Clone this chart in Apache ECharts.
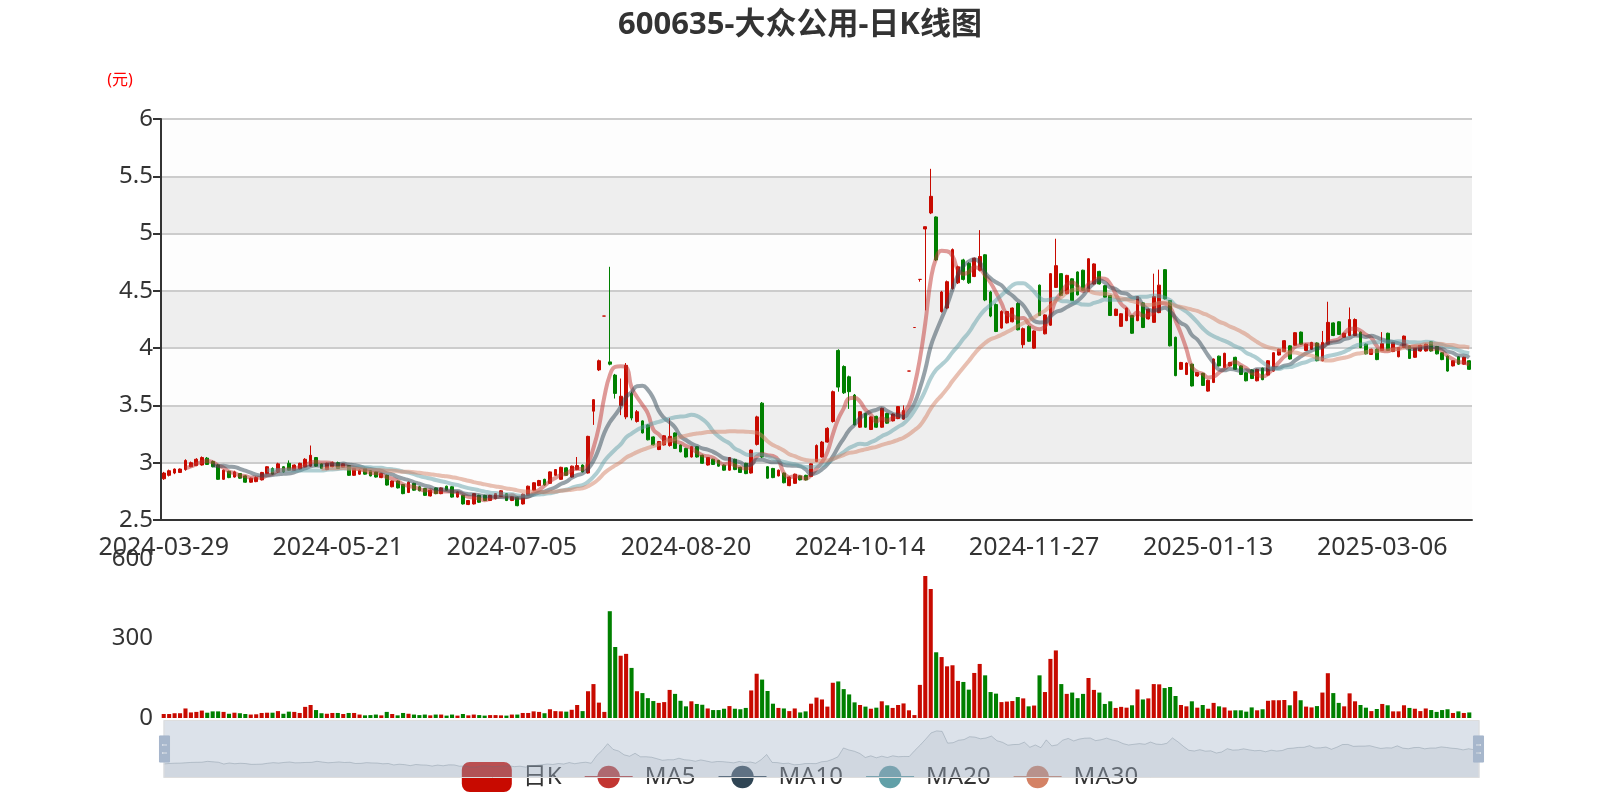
<!DOCTYPE html>
<html><head><meta charset="utf-8">
<script src="https://cdn.jsdelivr.net/npm/echarts@6/dist/echarts.min.js"></script>
<style>html,body{margin:0;padding:0;background:#fff}#chart{width:1600px;height:800px}</style>
</head><body><div id="chart"></div>
<script>
const dates = [
'2024-03-29',
'2024-04-01','2024-04-02','2024-04-03','2024-04-08','2024-04-09','2024-04-10','2024-04-11','2024-04-12','2024-04-15','2024-04-16','2024-04-17','2024-04-18','2024-04-19','2024-04-22','2024-04-23','2024-04-24','2024-04-25','2024-04-26','2024-04-29','2024-04-30',
'2024-05-06','2024-05-07','2024-05-08','2024-05-09','2024-05-10','2024-05-13','2024-05-14','2024-05-15','2024-05-16','2024-05-17','2024-05-20','2024-05-21','2024-05-22','2024-05-23','2024-05-24','2024-05-27','2024-05-28','2024-05-29','2024-05-30','2024-05-31',
'2024-06-03','2024-06-04','2024-06-05','2024-06-06','2024-06-07','2024-06-11','2024-06-12','2024-06-13','2024-06-14','2024-06-17','2024-06-18','2024-06-19','2024-06-20','2024-06-21','2024-06-24','2024-06-25','2024-06-26','2024-06-27','2024-06-28',
'2024-07-01','2024-07-02','2024-07-03','2024-07-04','2024-07-05','2024-07-08','2024-07-09','2024-07-10','2024-07-11','2024-07-12','2024-07-15','2024-07-16','2024-07-17','2024-07-18','2024-07-19','2024-07-22','2024-07-23','2024-07-24','2024-07-25','2024-07-26','2024-07-29','2024-07-30','2024-07-31',
'2024-08-01','2024-08-02','2024-08-05','2024-08-06','2024-08-07','2024-08-08','2024-08-09','2024-08-12','2024-08-13','2024-08-14','2024-08-15','2024-08-16','2024-08-19','2024-08-20','2024-08-21','2024-08-22','2024-08-23','2024-08-26','2024-08-27','2024-08-28','2024-08-29','2024-08-30',
'2024-09-02','2024-09-03','2024-09-04','2024-09-05','2024-09-06','2024-09-09','2024-09-10','2024-09-11','2024-09-12','2024-09-13','2024-09-18','2024-09-19','2024-09-20','2024-09-23','2024-09-24','2024-09-25','2024-09-26','2024-09-27','2024-09-30',
'2024-10-08','2024-10-09','2024-10-10','2024-10-11','2024-10-14','2024-10-15','2024-10-16','2024-10-17','2024-10-18','2024-10-21','2024-10-22','2024-10-23','2024-10-24','2024-10-25','2024-10-28','2024-10-29','2024-10-30','2024-10-31',
'2024-11-01','2024-11-04','2024-11-05','2024-11-06','2024-11-07','2024-11-08','2024-11-11','2024-11-12','2024-11-13','2024-11-14','2024-11-15','2024-11-18','2024-11-19','2024-11-20','2024-11-21','2024-11-22','2024-11-25','2024-11-26','2024-11-27','2024-11-28','2024-11-29',
'2024-12-02','2024-12-03','2024-12-04','2024-12-05','2024-12-06','2024-12-09','2024-12-10','2024-12-11','2024-12-12','2024-12-13','2024-12-16','2024-12-17','2024-12-18','2024-12-19','2024-12-20','2024-12-23','2024-12-24','2024-12-25','2024-12-26','2024-12-27','2024-12-30','2024-12-31',
'2025-01-02','2025-01-03','2025-01-06','2025-01-07','2025-01-08','2025-01-09','2025-01-10','2025-01-13','2025-01-14','2025-01-15','2025-01-16','2025-01-17','2025-01-20','2025-01-21','2025-01-22','2025-01-23','2025-01-24','2025-01-27',
'2025-02-05','2025-02-06','2025-02-07','2025-02-10','2025-02-11','2025-02-12','2025-02-13','2025-02-14','2025-02-17','2025-02-18','2025-02-19','2025-02-20','2025-02-21','2025-02-24','2025-02-25','2025-02-26','2025-02-27','2025-02-28',
'2025-03-03','2025-03-04','2025-03-05','2025-03-06','2025-03-07','2025-03-10','2025-03-11','2025-03-12','2025-03-13','2025-03-14','2025-03-17','2025-03-18','2025-03-19','2025-03-20','2025-03-21','2025-03-24','2025-03-25','2025-03-26','2025-03-27','2025-03-28'
];
const opens = [
2.86,2.89,2.91,2.915,2.94,2.965,2.975,2.98,3.04,3.01,
2.98,2.855,2.925,2.875,2.905,2.885,2.83,2.835,2.85,2.905,
2.95,2.92,2.965,2.995,2.935,2.945,2.965,2.97,3.045,2.99,
2.94,2.965,3.00,2.96,2.975,2.89,2.90,2.95,2.93,2.92,
2.87,2.89,2.79,2.84,2.81,2.74,2.82,2.79,2.775,2.71,
2.78,2.73,2.795,2.79,2.70,2.715,2.635,2.64,2.715,2.715,
2.67,2.685,2.705,2.73,2.67,2.70,2.64,2.715,2.76,2.80,
2.855,2.82,2.89,2.855,2.955,2.875,2.94,2.98,2.91,3.45,
3.81,4.28,3.88,3.765,3.50,3.40,3.605,3.36,3.365,3.33,
3.225,3.115,3.155,3.15,3.26,3.155,3.125,3.05,3.14,3.065,
2.98,3.03,3.02,2.98,2.935,3.03,2.96,2.995,2.91,3.16,
3.52,2.965,2.95,2.885,2.91,2.80,2.82,2.885,2.89,2.88,
3.01,3.05,3.18,3.36,3.98,3.84,3.75,3.59,3.31,3.43,
3.29,3.405,3.31,3.43,3.365,3.385,3.38,3.80,4.18,4.60,
5.04,5.18,5.145,4.32,4.35,4.52,4.57,4.77,4.74,4.625,
4.68,4.815,4.49,4.38,4.175,4.22,4.23,4.39,4.03,4.19,
4.00,4.55,4.125,4.20,4.53,4.65,4.475,4.605,4.665,4.68,
4.495,4.56,4.67,4.545,4.46,4.285,4.19,4.24,4.285,4.24,
4.395,4.255,4.225,4.31,4.685,4.415,4.095,3.815,3.77,3.86,
3.757,3.78,3.625,3.70,3.93,3.83,3.845,3.92,3.845,3.785,
3.81,3.715,3.825,3.765,3.80,3.94,3.97,4.02,4.025,4.14,
3.98,3.99,4.045,3.89,4.035,4.22,4.23,4.095,4.11,4.11,
4.14,4.035,3.945,3.99,3.98,4.13,3.97,3.925,4.005,4.02,
3.92,3.975,3.975,4.055,4.015,3.96,3.93,3.845,3.925,3.86,
3.89
];
const closes = [
2.91,2.93,2.945,2.945,3.02,3.00,3.03,3.045,2.985,2.965,
2.855,2.935,2.87,2.92,2.865,2.83,2.865,2.87,2.915,2.965,
2.90,2.99,2.92,2.935,2.98,2.995,3.03,3.065,2.97,2.95,
2.995,3.00,2.95,2.99,2.89,2.95,2.935,2.90,2.885,2.875,
2.905,2.805,2.84,2.78,2.73,2.83,2.76,2.755,2.715,2.76,
2.73,2.78,2.76,2.70,2.745,2.64,2.67,2.73,2.655,2.67,
2.715,2.73,2.755,2.67,2.705,2.625,2.725,2.795,2.825,2.845,
2.805,2.92,2.94,2.96,2.89,2.97,2.975,2.92,3.23,3.55,
3.89,4.28,3.86,3.605,3.58,3.85,3.39,3.445,3.26,3.20,
3.155,3.185,3.235,3.23,3.125,3.095,3.05,3.14,3.05,2.995,
3.045,2.985,2.97,2.935,3.045,2.94,2.915,2.905,3.11,3.40,
3.05,2.865,2.87,2.935,2.825,2.875,2.90,2.85,2.85,2.99,
3.15,3.18,3.30,3.62,3.66,3.61,3.62,3.33,3.445,3.31,
3.40,3.31,3.475,3.345,3.425,3.49,3.455,3.80,4.18,4.60,
5.06,5.325,4.77,4.49,4.58,4.86,4.71,4.60,4.57,4.785,
4.80,4.42,4.28,4.145,4.32,4.32,4.35,4.16,4.17,4.06,
4.15,4.285,4.29,4.65,4.72,4.46,4.635,4.415,4.465,4.505,
4.78,4.735,4.56,4.445,4.285,4.34,4.30,4.35,4.13,4.45,
4.18,4.34,4.45,4.55,4.43,4.02,3.76,3.875,3.87,3.67,
3.787,3.675,3.72,3.905,3.845,3.955,3.875,3.815,3.77,3.715,
3.735,3.815,3.725,3.89,3.96,3.99,4.065,3.905,4.135,4.035,
4.035,4.05,3.89,4.05,4.225,4.11,4.12,4.13,4.25,4.25,
4.005,3.95,3.99,3.90,4.04,3.98,4.05,4.005,4.105,3.91,
4.005,4.025,4.035,3.975,3.95,3.90,3.80,3.89,3.86,3.92,
3.815
];
const lows = [
2.85,2.88,2.90,2.91,2.93,2.96,2.97,2.975,2.98,2.96,
2.85,2.85,2.865,2.87,2.86,2.825,2.825,2.83,2.845,2.90,
2.895,2.915,2.915,2.93,2.93,2.94,2.96,2.965,2.965,2.945,
2.935,2.96,2.945,2.955,2.885,2.885,2.895,2.895,2.88,2.87,
2.865,2.80,2.785,2.775,2.725,2.735,2.755,2.75,2.71,2.705,
2.725,2.725,2.755,2.695,2.695,2.635,2.63,2.635,2.65,2.665,
2.665,2.68,2.70,2.665,2.665,2.62,2.635,2.71,2.755,2.795,
2.80,2.815,2.885,2.85,2.885,2.87,2.935,2.915,2.905,3.33,
3.80,4.28,3.85,3.56,3.415,3.38,3.37,3.35,3.255,3.195,
3.15,3.11,3.15,3.14,3.12,3.09,3.045,3.045,3.045,2.99,
2.975,2.98,2.965,2.93,2.93,2.935,2.91,2.90,2.905,3.15,
3.04,2.86,2.865,2.88,2.82,2.795,2.815,2.845,2.845,2.875,
3.005,3.045,3.175,3.35,3.62,3.60,3.47,3.325,3.305,3.305,
3.285,3.305,3.305,3.34,3.36,3.38,3.375,3.80,4.18,4.58,
4.33,5.17,4.76,4.31,4.34,4.51,4.56,4.59,4.56,4.62,
4.67,4.41,4.27,4.14,4.17,4.215,4.225,4.155,4.00,4.055,
3.995,4.28,4.12,4.195,4.525,4.455,4.47,4.41,4.46,4.50,
4.49,4.555,4.555,4.44,4.28,4.28,4.185,4.235,4.125,4.235,
4.175,4.25,4.22,4.305,4.425,4.015,3.755,3.81,3.765,3.665,
3.75,3.67,3.62,3.695,3.84,3.825,3.84,3.81,3.765,3.71,
3.73,3.71,3.72,3.76,3.795,3.935,3.965,3.90,4.02,4.03,
3.975,3.985,3.885,3.885,4.03,4.105,4.115,4.09,4.105,4.105,
4.00,3.945,3.94,3.895,3.975,3.975,3.965,3.92,4.00,3.905,
3.915,3.97,3.97,3.97,3.945,3.895,3.795,3.84,3.855,3.855,
3.81
];
const highs = [
2.92,2.94,2.95,2.95,3.03,3.01,3.04,3.055,3.05,3.02,
2.99,2.94,2.93,2.93,2.91,2.89,2.87,2.88,2.92,2.97,
2.96,3.00,2.97,3.02,2.985,3.00,3.04,3.15,3.05,2.995,
3.00,3.01,3.01,2.995,2.98,2.955,2.94,2.955,2.935,2.925,
2.91,2.895,2.845,2.845,2.815,2.835,2.825,2.795,2.78,2.765,
2.785,2.785,2.80,2.795,2.75,2.72,2.675,2.735,2.72,2.72,
2.72,2.735,2.76,2.735,2.71,2.705,2.73,2.80,2.83,2.85,
2.86,2.925,2.945,2.965,2.96,2.975,3.05,2.985,3.235,3.555,
3.90,4.28,4.71,3.775,3.735,3.87,3.62,3.46,3.37,3.335,
3.23,3.19,3.24,3.39,3.265,3.16,3.13,3.145,3.145,3.07,
3.05,3.035,3.025,2.985,3.05,3.035,2.965,3.00,3.115,3.41,
3.53,2.97,2.955,2.94,2.915,2.88,2.905,2.89,2.895,2.995,
3.16,3.19,3.31,3.63,3.99,3.85,3.76,3.60,3.45,3.435,
3.405,3.41,3.48,3.435,3.43,3.495,3.50,3.80,4.18,4.60,
5.06,5.565,5.15,4.50,4.59,4.87,4.72,4.78,4.75,4.79,
5.03,4.82,4.50,4.39,4.33,4.325,4.355,4.40,4.18,4.20,
4.155,4.555,4.295,4.655,4.955,4.655,4.64,4.61,4.67,4.685,
4.785,4.74,4.675,4.55,4.465,4.345,4.305,4.355,4.29,4.455,
4.40,4.345,4.65,4.685,4.69,4.42,4.10,3.88,3.875,3.865,
3.79,3.785,3.725,3.91,3.935,3.96,3.88,3.925,3.85,3.79,
3.815,3.82,3.83,3.895,3.965,3.995,4.07,4.025,4.14,4.145,
4.04,4.055,4.05,4.15,4.405,4.225,4.235,4.135,4.355,4.26,
4.145,4.04,3.995,3.995,4.14,4.135,4.055,4.01,4.11,4.025,
4.01,4.03,4.04,4.06,4.02,3.965,3.935,3.895,3.93,3.925,
3.895
];
const volumes = [
15,15,18,18,36,21,23,28,20,25,
25,23,16,20,18,15,13,14,19,20,
20,26,16,24,23,19,42,49,30,18,
16,19,19,15,19,19,13,10,11,13,
10,23,15,10,19,16,13,11,13,10,
13,13,9,13,9,15,10,13,11,9,
11,11,10,9,13,13,19,19,25,23,
18,33,26,25,24,31,49,26,101,128,
58,23,403,268,235,242,189,101,94,75,
64,57,60,106,91,65,44,63,53,50,
36,30,30,35,45,35,33,38,104,167,
145,102,54,38,36,26,36,21,25,54,
77,70,43,133,138,109,89,59,49,43,
35,39,63,48,38,49,55,29,11,125,
536,487,248,230,195,199,140,136,107,170,
204,161,98,92,60,62,64,79,74,44,
47,161,98,223,255,128,91,96,75,91,
151,106,96,53,63,38,42,39,48,108,
70,74,128,127,113,117,83,49,44,63,
39,49,35,57,44,40,28,29,29,24,
40,29,33,65,67,67,68,48,101,67,
43,40,45,96,169,94,57,44,93,63,
49,39,26,34,53,48,25,25,48,38,
35,26,36,30,23,30,33,19,25,19,
21
];
const maNames = ['MA5','MA10','MA20','MA30'];
const maWindows = [5,10,20,30];
const maColors = ['#c23531','#2f4554','#61a0a8','#d48265'];
const titleText = '600635-大众公用-日K线图';

const upColor = '#c80a00', downColor = '#008000';
function movingAvg(n){
  const out=[];
  for(let i=0;i<closes.length;i++){
    if(i<n-1){out.push('-');continue;}
    let s=0; for(let j=i-n+1;j<=i;j++) s+=closes[j];
    out.push(+(s/n).toFixed(4));
  }
  return out;
}
function isUp(i){
  if(closes[i]!==opens[i]) return closes[i]>opens[i];
  return i===0 || closes[i]>=closes[i-1];
}
const candleData = dates.map((d,i)=>[opens[i],closes[i],lows[i],highs[i]]);
const volData = volumes.map((v,i)=>({value:v,itemStyle:{color:isUp(i)?upColor:downColor}}));
const FONT = "'Noto Sans','Noto Sans CJK SC',sans-serif";
const chart = echarts.init(document.getElementById('chart'));
const maSeries = maNames.map((nm,k)=>({
  name:nm,type:'line',data:movingAvg(maWindows[k]),smooth:true,symbol:'circle',showSymbol:false,
  xAxisIndex:0,yAxisIndex:0,
  lineStyle:{width:4,opacity:0.5,color:maColors[k]},itemStyle:{color:maColors[k]}
}));
chart.setOption({
  animation:false,
  textStyle:{fontFamily:FONT},
  title:{text:titleText,left:'center',top:5,textStyle:{fontSize:31,fontWeight:'bold',color:'#333',fontFamily:FONT}},
  legend:{top:757,left:'center',itemWidth:48,itemHeight:28,itemGap:22,z:1,
    lineStyle:{opacity:1,width:2},
    textStyle:{fontSize:24,color:'#333',padding:[0,0,0,7]},data:['日K'].concat(maNames)},
  grid:[{left:161,right:128,top:119,height:401},{left:161,right:128,top:559,height:159}],
  xAxis:[
    {type:'category',data:dates,gridIndex:0,boundaryGap:true,
     axisLine:{lineStyle:{color:'#333',width:2}},
     axisTick:{interval:31,length:8,lineStyle:{color:'#333',width:2}},
     axisLabel:{interval:31,fontSize:25,color:'#333',margin:15},splitLine:{show:false}},
    {type:'category',data:dates,gridIndex:1,boundaryGap:true,axisLine:{show:false},axisTick:{show:false},axisLabel:{show:false},splitLine:{show:false}}
  ],
  yAxis:[
    {type:'value',gridIndex:0,min:2.5,max:6,interval:0.5,name:'(元)',nameLocation:'end',nameGap:31,
     nameTextStyle:{color:'#f00',fontSize:16,align:'center',padding:[0,82,0,0]},
     axisLine:{show:true,lineStyle:{color:'#333',width:2}},axisTick:{show:true,length:8,lineStyle:{color:'#333',width:2}},
     axisLabel:{fontSize:24,color:'#333'},
     splitLine:{show:true,lineStyle:{color:'#ccc',width:2}},
     splitArea:{show:true,areaStyle:{color:['rgba(250,250,250,0.3)','rgba(200,200,200,0.3)']}}},
    {type:'value',gridIndex:1,min:0,max:600,interval:300,axisLine:{show:false},axisTick:{show:false},
     axisLabel:{fontSize:24,color:'#333'},splitLine:{show:false}}
  ],
  dataZoom:[
    {type:'inside',xAxisIndex:[0,1],start:0,end:100},
    {type:'slider',xAxisIndex:[0,1],start:0,end:100,left:161,right:123,top:720,height:58,z:10,
     backgroundColor:'rgba(0,0,0,0)',borderColor:'#ddd',fillerColor:'rgba(167,183,203,0.4)',
     dataBackground:{lineStyle:{color:'#2f4554',opacity:0.3,width:1},areaStyle:{color:'rgba(47,69,84,0.1)',opacity:1}},
     selectedDataBackground:{lineStyle:{color:'#2f4554',opacity:0.3,width:1},areaStyle:{color:'rgba(47,69,84,0.1)',opacity:1}},
     handleIcon:'path://M0,0 h10 v26 h-10 Z M2,8 v2 h6 v-2 Z M2,16 v2 h6 v-2 Z',handleSize:'45%',
     handleStyle:{color:'#a7b7cc',borderColor:'#a7b7cc'},moveHandleSize:0,showDetail:false,brushSelect:false}
  ],
  series:[
    {name:'日K',type:'candlestick',data:candleData,xAxisIndex:0,yAxisIndex:0,barWidth:'60%',
     itemStyle:{color:upColor,color0:downColor,borderColor:upColor,borderColor0:downColor,borderWidth:1}},
  ].concat(maSeries).concat([
    {name:'成交量',type:'bar',data:volData,xAxisIndex:1,yAxisIndex:1,barWidth:'75%'}
  ])
});
</script></body></html>
